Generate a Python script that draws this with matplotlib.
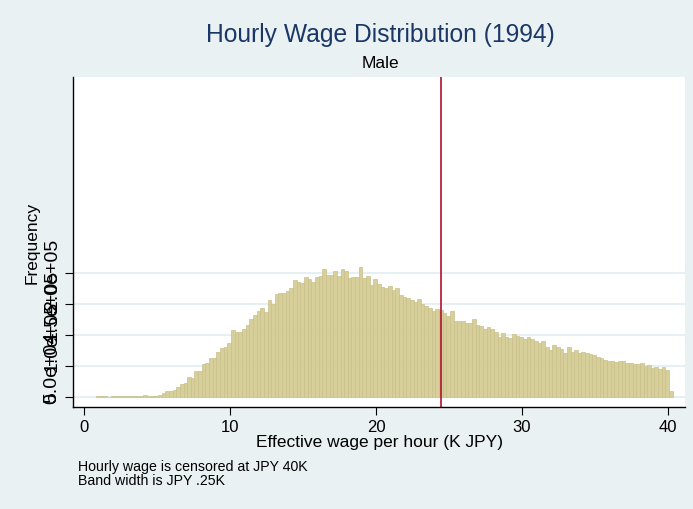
import numpy as np
import matplotlib
matplotlib.use("Agg")
import matplotlib.pyplot as plt

plt.rcParams['font.family'] = ['Liberation Sans', 'DejaVu Sans']

# histogram of hourly wage, bins of 0.25K JPY starting at 0.82
bin_start = 0.82
bin_width = 0.25
freq_k = [
    2.4, 2.4, 2.4, 0, 2.1, 2.0, 2.2, 2.1, 2.0, 2.1, 2.2, 2.1, 2.2, 3.7,
    1.9, 1.9, 2.4, 3.7, 6.5, 9.2, 10.2, 11.8, 16.1, 21.0, 22.1, 32.3, 30.6, 41.9, 42.4,
    53.2, 54.8, 62.9, 62.9, 72.6, 79.0, 80.7, 87.1, 108.1, 104.8,
    104.8, 109.7, 116.1, 125.8, 132.3, 138.7, 143.6, 137.1, 156.5, 150.0,
    166.1, 167.8, 167.8, 171.0, 175.8, 188.7, 185.5, 183.9, 193.6, 190.3,
    185.5, 193.6, 195.2, 206.5, 196.8, 196.8, 203.2, 195.2, 206.5, 203.2,
    192.0, 193.6, 193.6, 209.7, 192.0, 195.2, 180.7, 190.3, 182.3, 177.4,
    175.8, 179.0, 173.4, 175.8, 164.5, 161.3, 159.7, 156.5, 153.2, 158.1,
    150.0, 146.8, 143.6, 138.7, 141.9, 140.3, 135.5, 130.7, 138.7, 122.6,
    122.6, 122.6, 119.4, 119.4, 125.8, 116.1, 114.5, 109.7, 112.9, 109.7,
    104.8, 96.8, 103.2, 96.8, 95.2, 101.6, 98.4, 96.8, 93.6, 96.8,
    93.6, 90.3, 87.1, 90.3, 80.7, 75.8, 83.9, 80.7, 77.4, 71.0,
    80.7, 72.6, 75.8, 71.0, 72.6, 71.0, 69.4, 67.7, 64.5, 62.9,
    59.7, 58.1, 58.1, 56.5, 58.1, 58.1, 54.8, 54.8, 53.2, 53.2,
    54.8, 50.0, 51.6, 46.8, 48.4, 45.2, 48.4, 43.5, 9.7,
]
mean_wage = 24.45
x_ticks = [0, 10, 20, 30, 40]
y_ticks = [0, 50000, 100000, 150000, 200000]
y_ticklabels = ["0", "5.0e+04", "1.0e+05", "1.5e+05", "2.0e+05"]

freq = np.array(freq_k) * 1000
edges = bin_start + bin_width * np.arange(len(freq))

bg = '#eaf1f3'
fig = plt.figure(figsize=(6.93, 5.10), dpi=100, facecolor=bg)
ax = fig.add_axes([73/693, 102/510, 612/693, 330/510])
ax.set_facecolor('white')

ax.bar(edges, freq, width=bin_width, align='edge', color='#d6cf9a',
       edgecolor='#c9c08a', linewidth=0.5)
ax.axvline(mean_wage, color='#b0122e', linewidth=1.2)

ax.set_xlim(-0.75, 41.16)
ax.set_ylim(-16000, 516000)
ax.set_xticks(x_ticks)
ax.set_yticks(y_ticks)
ax.set_yticklabels(y_ticklabels, rotation=90, va='center')
ax.tick_params(axis='x', labelsize=12, length=6, width=0.8, pad=3)
ax.tick_params(axis='y', labelsize=14, length=6, width=0.8, pad=3)
ax.grid(axis='y', color='#e6eff1', linewidth=1.5)
ax.set_axisbelow(True)

for s in ['top', 'right']:
    ax.spines[s].set_visible(False)
for s in ['left', 'bottom']:
    ax.spines[s].set_linewidth(1.0)

ax.set_xlabel("Effective wage per hour (K JPY)", fontsize=12.5, labelpad=0)
ax.set_ylabel("Frequency", fontsize=12.5, labelpad=3)

fig.text(380/693, 1 - 35/510, "Hourly Wage Distribution (1994)", fontsize=17.7,
         color='#1a3766', ha='center', va='center')
fig.text(380/693, 1 - 63/510, "Male", fontsize=12.5, ha='center', va='center')
fig.text(78/693, 1 - 467/510, "Hourly wage is censored at JPY 40K", fontsize=10.2,
         ha='left', va='center')
fig.text(78/693, 1 - 481/510, "Band width is JPY .25K", fontsize=10.2,
         ha='left', va='center')

fig.savefig("out.png", dpi=100, facecolor=bg)
